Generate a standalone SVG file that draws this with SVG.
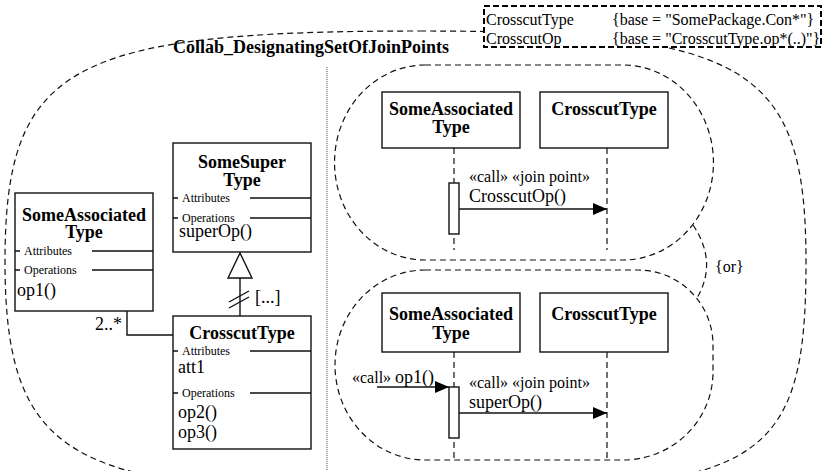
<svg xmlns="http://www.w3.org/2000/svg" width="823" height="471" viewBox="0 0 823 471" font-family="'Liberation Serif', 'Times New Roman', Times, serif">
  <defs>
    <marker id="filled" viewBox="0 0 14 12" refX="14" refY="6" markerWidth="14" markerHeight="12" markerUnits="userSpaceOnUse" orient="auto">
      <path d="M0,0 L14,6 L0,12 Z" fill="#000"/>
    </marker>
    <style>
      text { font-family: 'Liberation Serif', 'Times New Roman', Times, serif; fill: #000; }
      .name { font-size: 18px; font-weight: bold; text-anchor: middle; }
      .title { font-size: 18px; font-weight: bold; }
      .sect { font-size: 12px; }
      .member { font-size: 18px; }
      .msg { font-size: 16px; }
      .box { fill: #fff; stroke: #111; stroke-width: 1.4; }
      .line { fill: none; stroke: #111; stroke-width: 1.4; }
      .dash { fill: none; stroke: #111; stroke-width: 1.2; stroke-dasharray: 6 4; }
      .life { fill: none; stroke: #111; stroke-width: 1.2; stroke-dasharray: 6 4; }
      .divider { fill: none; stroke: #444; stroke-width: 1; stroke-dasharray: 1 1; }
      .tmpl { fill: #fff; stroke: #000; stroke-width: 2; stroke-dasharray: 6 3; }
    </style>
  </defs>

  <!-- collaboration outline -->
  <g id="collaboration">
    <path class="dash" d="M420,31 C748,31 806,66 806,262 C806,468 760,492 420,492 C80,492 5,468 5,262 C5,66 68,31 420,31 Z"/>
    <text class="title" x="173" y="53">Collab_DesignatingSetOfJoinPoints</text>
    <line class="divider" x1="327" y1="67" x2="327" y2="471"/>
  </g>

  <!-- template parameters -->
  <g id="template-parameters">
    <rect class="tmpl" x="484" y="6" width="337" height="41"/>
    <text class="msg" x="486" y="25">CrosscutType</text>
    <text class="msg" x="612" y="25">{base = "SomePackage.Con*"}</text>
    <text class="msg" x="486" y="44">CrosscutOp</text>
    <text class="msg" x="612" y="44">{base = "CrosscutType.op*(..)"}</text>
  </g>

  <!-- class: SomeAssociatedType -->
  <g id="class-some-associated-type">
    <rect class="box" x="15" y="193" width="138" height="118"/>
    <text class="name" x="84" y="221">SomeAssociated</text>
    <text class="name" x="84" y="238">Type</text>
    <path class="line" d="M15,251 H20 M92,251 H153 M15,270 H20 M92,270 H153"/>
    <text class="sect" x="24" y="255">Attributes</text>
    <text class="sect" x="24" y="274">Operations</text>
    <text class="member" x="17" y="296">op1()</text>
  </g>

  <!-- class: SomeSuperType -->
  <g id="class-some-super-type">
    <rect class="box" x="173" y="143" width="138" height="109"/>
    <text class="name" x="242" y="168">SomeSuper</text>
    <text class="name" x="242" y="186">Type</text>
    <path class="line" d="M173,198 H178 M250,198 H311 M173,218 H178 M250,218 H311"/>
    <text class="sect" x="182" y="202">Attributes</text>
    <text class="sect" x="182" y="222">Operations</text>
    <text class="member" x="179" y="237">superOp()</text>
  </g>

  <!-- class: CrosscutType -->
  <g id="class-crosscut-type">
    <rect class="box" x="173" y="316" width="138" height="133"/>
    <text class="name" x="242" y="339">CrosscutType</text>
    <path class="line" d="M173,351 H178 M250,351 H311 M173,393 H178 M250,393 H311"/>
    <text class="sect" x="182" y="355">Attributes</text>
    <text class="member" x="178" y="373">att1</text>
    <text class="sect" x="182" y="397">Operations</text>
    <text class="member" x="178" y="418">op2()</text>
    <text class="member" x="178" y="438">op3()</text>
  </g>

  <!-- class diagram relationships -->
  <g id="class-connectors">
    <!-- generalization CrosscutType -> SomeSuperType -->
    <line class="line" x1="240" y1="278" x2="240" y2="316"/>
    <path class="box" d="M240,253 L252,278 L228,278 Z"/>
    <path class="line" d="M229,302 L249,291 M229,308 L249,297"/>
    <text class="member" x="255" y="303">[...]</text>
    <!-- association SomeAssociatedType - CrosscutType -->
    <polyline class="line" points="127,311 127,335 173,335"/>
    <text class="member" x="122" y="330" text-anchor="end">2..*</text>
  </g>

  <!-- interaction alternative 1 -->
  <g id="interaction-1">
    <path class="dash" d="M425,65 H623 A90,97 0 0 1 623,260 H425 A90,97 0 0 1 425,65 Z"/>
    <rect class="box" x="382" y="92" width="138" height="56"/>
    <text class="name" x="451" y="115">SomeAssociated</text>
    <text class="name" x="451" y="133">Type</text>
    <rect class="box" x="540" y="92" width="128" height="56"/>
    <text class="name" x="604" y="115">CrosscutType</text>
    <line class="life" x1="454" y1="148" x2="454" y2="250"/>
    <line class="life" x1="607" y1="148" x2="607" y2="250"/>
    <rect class="box" x="449" y="183" width="10" height="51"/>
  </g>

  <!-- interaction alternative 2 -->
  <g id="interaction-2">
    <path class="dash" d="M425,270 H638 A75,75 0 0 1 713,345 V372 A90,88 0 0 1 623,460 H425 A90,95 0 0 1 425,270 Z"/>
    <rect class="box" x="382" y="293" width="138" height="59"/>
    <text class="name" x="451" y="320">SomeAssociated</text>
    <text class="name" x="451" y="339">Type</text>
    <rect class="box" x="540" y="293" width="128" height="59"/>
    <text class="name" x="604" y="320">CrosscutType</text>
    <line class="life" x1="454" y1="352" x2="454" y2="460"/>
    <line class="life" x1="607" y1="352" x2="607" y2="460"/>
    <rect class="box" x="449" y="387" width="10" height="51"/>
  </g>

  <!-- messages and constraint -->
  <g id="connectors">
    <line class="line" x1="459" y1="209" x2="607" y2="209" marker-end="url(#filled)"/>
    <text class="msg" x="469" y="182">«call» «join point»</text>
    <text class="member" x="469" y="202">CrosscutOp()</text>

    <line class="line" x1="377" y1="387" x2="449" y2="387" marker-end="url(#filled)"/>
    <text x="352" y="383"><tspan class="msg">«call» </tspan><tspan class="member">op1()</tspan></text>

    <line class="line" x1="459" y1="413" x2="607" y2="413" marker-end="url(#filled)"/>
    <text class="msg" x="469" y="388">«call» «join point»</text>
    <text class="member" x="469" y="408">superOp()</text>

    <path class="dash" d="M693,225 Q718,262 697,298"/>
    <text class="msg" x="715" y="272">{or}</text>
  </g>
</svg>
